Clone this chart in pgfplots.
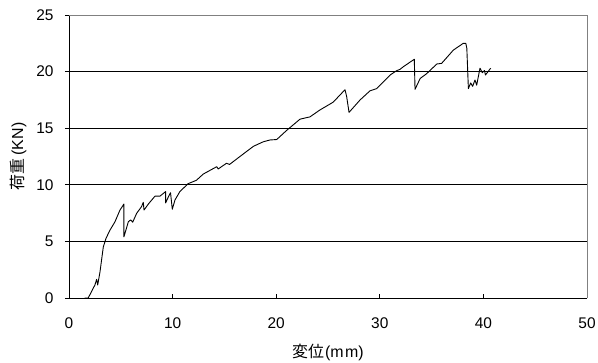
\documentclass[border=0pt]{standalone}
\usepackage{pgfplots}
\pgfplotsset{compat=1.18}
\usepackage{fontspec}
\setmainfont{Liberation Sans}
\newfontfamily\jp{Noto Sans CJK JP}
\begin{document}
\begin{tikzpicture}
\begin{axis}[
  scale only axis,
  width=518bp, height=283bp,
  xmin=0, xmax=50, ymin=0, ymax=25,
  xtick={0,10,20,30,40,50},
  ytick={0,5,10,15,20,25},
  axis x line*=bottom, axis y line*=left,
  axis line style={black, line width=0.8bp, -},
  xtick align=inside, ytick align=outside,
  major tick length=4bp,
  tick style={black, line width=0.8bp},
  ymajorgrids,
  grid style={black, line width=0.8bp},
  /pgf/number format/assume math mode=true,
  ticklabel style={font=\fontsize{15.5}{17}\selectfont},
  xticklabel style={yshift=-16bp},
  yticklabel style={xshift=-8bp},
  xlabel={{\jp 変位}\hspace{1bp}(m\hspace{1.5bp}m)},
  ylabel={{\jp 荷重}\hspace{3bp}(KN)},
  label style={font=\fontsize{16}{18}\selectfont},
  xlabel style={yshift=-9bp},
  ylabel style={yshift=3bp},
  clip=false,
]
\addplot[black, line width=0.9bp, line join=round] coordinates {
(1.5,0) (1.85,0) (2.0,0.26) (2.5,1.15) (2.67,1.65) (2.77,1.15) (2.99,2.3)
(3.31,4.5) (3.57,5.27) (3.96,6.0) (4.44,6.74) (4.92,7.77) (5.3,8.3)
(5.3,5.4) (5.73,6.74) (5.95,6.9) (6.15,6.7) (6.53,7.48) (7.0,8.07)
(7.17,8.45) (7.24,7.77) (7.66,8.3) (8.3,9.0) (8.78,9.0) (9.33,9.4)
(9.33,8.4) (9.6,8.95) (9.8,9.3) (9.97,7.84) (10.23,8.66) (10.7,9.4)
(11.5,10.1) (12.3,10.4) (12.96,10.95) (14.26,11.6) (14.4,11.4) (15.2,11.9)
(15.5,11.8) (16.5,12.5) (17.8,13.4) (18.75,13.8) (19.4,13.96) (20.05,14.0)
(21.0,14.8) (22.3,15.8) (23.26,16.0) (24.2,16.6) (25.5,17.3) (26.64,18.4)
(26.8,17.8) (27.03,16.4) (28.1,17.5) (29.05,18.3) (29.7,18.5) (31.0,19.7)
(31.6,20.07) (31.95,20.2) (32.27,20.43) (33.33,21.09) (33.4,18.43)
(33.9,19.4) (34.5,19.8) (35.5,20.67) (35.97,20.73) (37.1,21.9) (38.06,22.5)
(38.3,22.5) (38.4,22.06) (38.55,18.5) (38.77,19.0) (38.96,18.7) (39.19,19.26)
(39.35,18.8) (39.67,20.3) (39.9,19.9) (40.1,20.1) (40.2,19.7) (40.7,20.3)
};
\draw[gray, line width=0.8bp] (rel axis cs:0,1) -- (rel axis cs:1,1) -- (rel axis cs:1,0);
\end{axis}
\pgfresetboundingbox
\path ([shift={(-69bp,-64bp)}]current axis.south west) rectangle ([shift={(11bp,15bp)}]current axis.north east);
\end{tikzpicture}
\end{document}
